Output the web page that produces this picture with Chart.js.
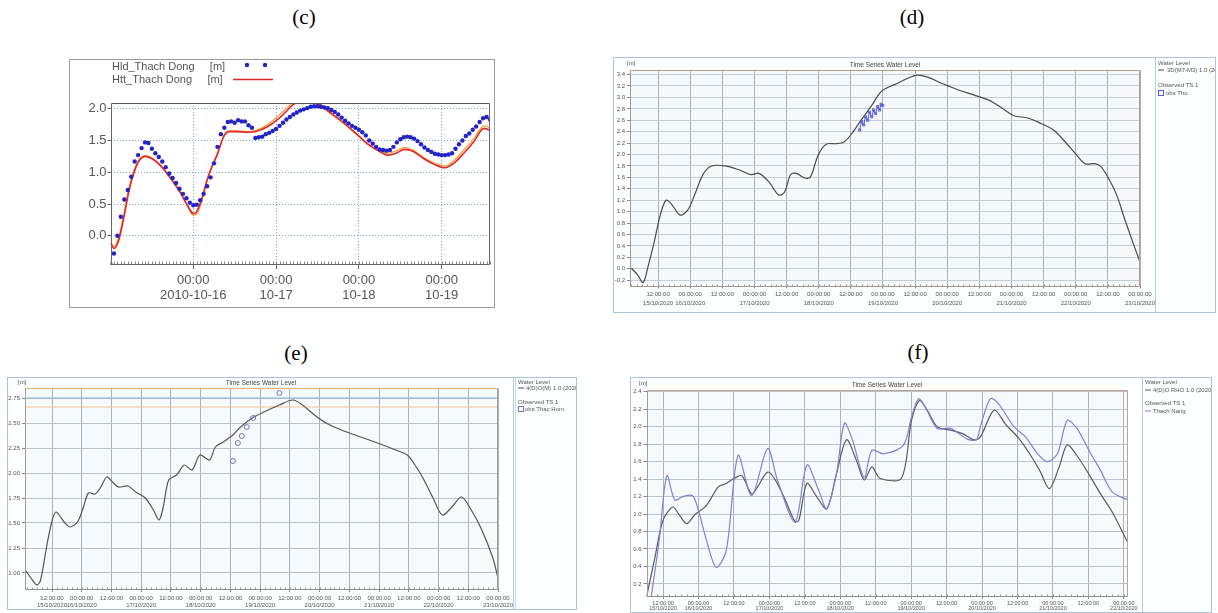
<!DOCTYPE html>
<html><head><meta charset="utf-8">
<script src="https://cdn.jsdelivr.net/npm/chart.js@4.4.1/dist/chart.umd.min.js"></script>
<style>
body{margin:0;background:#fff;width:1218px;height:613px;position:relative;overflow:hidden;font-family:"Liberation Sans",Arial,sans-serif}
.lbl{position:absolute;font-family:"Liberation Serif","Times New Roman",serif;font-size:21px;color:#000;transform:translate(-50%,-50%);white-space:nowrap}
.box{position:absolute;box-sizing:border-box}
.box canvas{position:absolute;left:0;top:0}
</style></head><body>
<div class="lbl" style="left:304px;top:17px">(c)</div>
<div class="lbl" style="left:912px;top:17px">(d)</div>
<div class="lbl" style="left:296px;top:353px">(e)</div>
<div class="lbl" style="left:918px;top:352px">(f)</div>
<div class="box" style="left:69px;top:59px;width:426px;height:249px;border:1px solid #9c9c9c"><canvas id="cc" width="424" height="247"></canvas></div>
<div class="box" style="left:613px;top:57px;width:603px;height:256px;border:1px solid #a9c5de"><canvas id="cd" width="601" height="254"></canvas></div>
<div class="box" style="left:7px;top:377px;width:570px;height:233px;border:1px solid #a9c5de"><canvas id="ce" width="568" height="231"></canvas></div>
<div class="box" style="left:630px;top:377px;width:582px;height:236px;border:1px solid #a9c5de"><canvas id="cf" width="580" height="234"></canvas></div>
<script>
// ---------- (c) Thach Dong: hours since 2010-10-15 00:00 ----------
const C_OBS_HOURS = [0,1,2,3,4,5,6,7,8,9,10,11,12,13,14,15,16,17,18,19,20,21,22,23,24,25,26,27,28,29,30,31,32,33,34,35,36,37,38,39,40,41,42,43,44,45,46,47,48,49,50,51,52,53,54,55,56,57,58,59,60,61,62,63,64,65,66,67,68,69,70,71,72,73,74,75,76,77,78,79,80,81,82,83,84,85,86,87,88,89,90,91,92,93,94,95,96,97,98,99,100,101,102,103,104,105,106,107,108,109,110];
const C_OBS = [-0.45,-0.28,0.00,0.30,0.57,0.72,0.93,1.17,1.27,1.38,
1.47,1.46,1.37,1.30,1.24,1.17,1.08,0.98,0.91,0.83,
0.74,0.66,0.59,0.52,0.48,0.49,0.56,0.66,0.78,0.92,
1.14,1.40,1.60,1.70,1.79,1.80,1.78,1.82,1.80,1.80,
1.74,1.70,1.54,1.55,1.56,1.60,1.62,1.65,1.68,1.73,
1.78,1.83,1.87,1.91,1.94,1.97,1.99,2.01,2.03,2.04,
2.04,2.03,2.02,2.01,1.98,1.95,1.91,1.86,1.81,1.77,
1.73,1.70,1.67,1.63,1.58,1.50,1.45,1.40,1.36,1.35,
1.34,1.35,1.40,1.47,1.52,1.55,1.56,1.55,1.53,1.49,
1.44,1.39,1.35,1.32,1.29,1.28,1.27,1.27,1.28,1.30,
1.37,1.44,1.50,1.57,1.61,1.67,1.72,1.79,1.85,1.87,
1.83];
const C_SIM_HOURS = [0,1,2.4,3.9,5.4,6.9,8.3,10.1,11.8,14.2,17.1,20.1,22.5,24,25,26.5,28,29.4,30.9,32.8,34.3,36.3,39.7,42.1,45.6,49.5,53.4,57.3,60.3,63.2,67.1,71,74.9,77.9,80.3,82.8,85.2,87.7,90.6,94,97,99.5,102.4,105.3,108.2,110];
const C_SIM = [-0.12,-0.2,-0.07,0.3,0.72,1.01,1.18,1.25,1.22,1.12,0.93,0.69,0.46,0.35,0.38,0.59,0.88,1.09,1.27,1.56,1.64,1.64,1.63,1.64,1.72,1.88,2.08,2.12,2.08,1.96,1.8,1.62,1.43,1.33,1.27,1.3,1.36,1.33,1.22,1.12,1.07,1.14,1.3,1.48,1.69,1.66];
const C_SIM2 = [-0.1,-0.17,-0.02,0.35,0.76,1.04,1.2,1.26,1.23,1.13,0.94,0.7,0.45,0.32,0.34,0.55,0.86,1.08,1.28,1.57,1.65,1.65,1.64,1.66,1.75,1.93,2.1,2.12,2.06,1.95,1.79,1.61,1.43,1.34,1.3,1.34,1.39,1.35,1.24,1.14,1.1,1.18,1.35,1.53,1.73,1.7];
const C_XTICKS = [24,48,72,96];
const C_XLABELS = [["00:00","2010-10-16"],["00:00","10-17"],["00:00","10-18"],["00:00","10-19"]];
const C_YTICKS = [0,0.5,1,1.5,2];
const C_YLABELS = ["0.0","0.5","1.0","1.5","2.0"];

// ---------- (d) hours since 15/10/2020 00:00 ----------
const D_HOURS = [2,4.4,6.4,8.4,10.6,12.8,15,17.2,20.2,23.1,26.1,29,32,37.1,42.3,46.7,49.7,53.4,57.1,59.3,61.5,63.7,66.7,68.9,71.8,74.8,78.5,81.4,84.4,88.1,91.8,95.5,100.6,105.1,108.7,112.4,118.3,124.2,130.1,136.1,140.5,144.9,150.1,155.2,159.7,164.1,167.8,171.5,175.2,177.4,180.3,183.3,186.2,189.2,191.9];
const D_LEVEL = [0.01,-0.11,-0.24,0.07,0.48,0.94,1.2,1.12,0.94,1.03,1.35,1.67,1.8,1.8,1.73,1.65,1.67,1.52,1.29,1.35,1.65,1.67,1.59,1.61,1.99,2.18,2.19,2.22,2.37,2.62,2.86,3.11,3.23,3.33,3.39,3.36,3.24,3.13,3.04,2.94,2.81,2.68,2.64,2.54,2.43,2.22,2.02,1.84,1.84,1.79,1.58,1.29,0.88,0.48,0.13];
const D_OBS_HOURS = [87.3,88,88.8,89.5,90.3,91,91.8,92.5,93.2,94,94.7,95.3,95.9];
const D_OBS = [2.43,2.58,2.52,2.66,2.6,2.74,2.66,2.78,2.72,2.84,2.78,2.88,2.86];
const D_XTICKS = [12,24,36,48,60,72,84,96,108,120,132,144,156,168,180,192];
const D_XLABELS = [["12:00:00","15/10/2020"],["00:00:00","16/10/2020"],"12:00:00",["00:00:00","17/10/2020"],"12:00:00",["00:00:00","18/10/2020"],"12:00:00",["00:00:00","19/10/2020"],"12:00:00",["00:00:00","20/10/2020"],"12:00:00",["00:00:00","21/10/2020"],"12:00:00",["00:00:00","22/10/2020"],"12:00:00",["00:00:00","23/10/2020"]];
const D_YTICKS = [-0.2,0,0.2,0.4,0.6,0.8,1,1.2,1.4,1.6,1.8,2,2.2,2.4,2.6,2.8,3,3.2,3.4];
const D_YLABELS = ["-0.2","0.0","0.2","0.4","0.6","0.8","1.0","1.2","1.4","1.6","1.8","2.0","2.2","2.4","2.6","2.8","3.0","3.2","3.4"];

// ---------- (e) ----------
const E_HOURS = [1.2,3.5,5.9,7.4,9.8,12.1,13.7,16.9,19.2,22.3,24.7,26.7,29.4,31.7,34.1,36.4,38.8,42.7,45.8,49.7,52.9,55.2,56.8,59.1,62.3,65.4,68.5,71.7,75.6,77.9,81.1,85,88.1,92.8,97.5,103.8,109.2,113.1,117.9,122.6,128.8,136.6,144.5,150.7,155.4,158.5,161.7,165.6,169.5,173.4,177.3,181.2,185.1,189.8,192];
const E_LEVEL = [1.03,0.95,0.88,0.93,1.26,1.53,1.61,1.51,1.46,1.51,1.66,1.8,1.79,1.86,1.96,1.91,1.86,1.87,1.81,1.75,1.63,1.53,1.65,1.93,1.98,2.08,2.03,2.18,2.13,2.26,2.31,2.38,2.46,2.55,2.61,2.68,2.73,2.68,2.58,2.5,2.43,2.36,2.29,2.23,2.18,2.08,1.95,1.76,1.58,1.66,1.76,1.63,1.45,1.16,0.95];
const E_OBS_HOURS = [85,87,88.6,90.6,93.2,103.8];
const E_OBS = [2.12,2.30,2.37,2.46,2.55,2.80];
const E_ALERT_HOURS = [1.1,192];
const E_ALERT_BLUE = [2.75,2.75];
const E_ALERT_ORANGE = [2.66,2.66];
const E_XTICKS = D_XTICKS;
const E_XLABELS = D_XLABELS;
const E_YTICKS = [1,1.25,1.5,1.75,2,2.25,2.5,2.75];
const E_YLABELS = ["1.00","1.25","1.50","1.75","2.00","2.25","2.50","2.75"];

// ---------- (f) ----------
const F_MODEL_HOURS = [6.4,9.3,12,15.3,17.3,20,22.7,26.7,30.7,33.4,36.7,38.7,42,44,47.4,50,53.4,56.7,58,60.7,64,67.4,70.7,74.1,77.4,80.1,82.7,85.4,92.7,96.1,98.8,101.4,104.8,109.4,113.4,117.4,119.4,124.1,128.1,132.1,136.1,139.5,142.8,146.1,148.8,152.1,156.1,160.1,164.1,169.5];
const F_MODEL = [0.05,0.51,0.93,1.08,1.0,0.89,0.99,1.1,1.31,1.35,1.42,1.44,1.23,1.31,1.48,1.39,1.16,0.91,0.93,1.35,1.2,1.06,1.46,1.85,1.62,1.39,1.54,1.41,1.41,2.07,2.3,2.19,2.0,1.96,1.92,1.85,1.88,2.19,2.02,1.88,1.69,1.5,1.29,1.54,1.79,1.67,1.46,1.23,1.02,0.66];
const F_OBS_HOURS = [8,10.7,13.3,16,18.7,22,24,26.7,30,33.4,37.4,42,47.4,50.7,56.7,60.7,64.7,67.4,70.7,73.4,76.1,80.1,82.7,86.7,93.4,96.1,98.5,100.7,104.8,109.4,114.8,118.1,119.4,122.8,125.4,130.8,134.8,138.8,142.1,145.5,148.8,152.1,156.8,160.1,164.1,169.5];
const F_OBS = [0.05,0.7,1.44,1.16,1.2,1.21,1.04,0.7,0.39,0.58,1.67,1.21,1.75,1.39,0.91,1.56,1.27,1.06,1.46,2.04,1.85,1.42,1.73,1.69,1.79,2.11,2.32,2.23,1.98,1.98,1.86,1.85,2.0,2.32,2.27,2.0,1.88,1.69,1.6,1.69,2.07,1.98,1.69,1.5,1.25,1.16];
const F_XTICKS = [12,24,36,48,60,72,84,96,108,120,132,144,156,168];
const F_XLABELS = [["12:00:00","15/10/2020"],["00:00:00","16/10/2020"],"12:00:00",["00:00:00","17/10/2020"],"12:00:00",["00:00:00","18/10/2020"],"12:00:00",["00:00:00","19/10/2020"],"12:00:00",["00:00:00","20/10/2020"],"12:00:00",["00:00:00","21/10/2020"],"12:00:00",["00:00:00","22/10/2020"]];
const F_YTICKS = [0.2,0.4,0.6,0.8,1,1.2,1.4,1.6,1.8,2,2.2,2.4];
const F_YLABELS = ["0.2","0.4","0.6","0.8","1.0","1.2","1.4","1.6","1.8","2.0","2.2","2.4"];

Chart.defaults.font.family = '"Liberation Sans", Arial, sans-serif';

function pts(xs, ys){ return xs.map((x,i)=>({x:x, y:ys[i]})); }

const decor = {
  id:'decor',
  beforeDraw(chart, args, o){
    const ctx = chart.ctx, a = chart.chartArea;
    ctx.save();
    if(o.panelBg){ ctx.fillStyle=o.panelBg; ctx.fillRect(0,0,chart.width,chart.height); }
    if(o.plotBg){ ctx.fillStyle=o.plotBg; ctx.fillRect(a.left,a.top,a.right-a.left,a.bottom-a.top); }
    ctx.restore();
  },
  afterDraw(chart, args, o){
    const ctx = chart.ctx, a = chart.chartArea;
    ctx.save();
    const L=Math.round(a.left)+0.5, R=Math.round(a.right)-0.5, T=Math.round(a.top)+0.5, B=Math.round(a.bottom)-0.5;
    if(o.minor){
      const xs = chart.scales.x;
      ctx.strokeStyle=o.minor.color; ctx.lineWidth=1; ctx.beginPath();
      for(let v=Math.ceil(xs.min/o.minor.step)*o.minor.step; v<=xs.max; v+=o.minor.step){
        const px=Math.round(xs.getPixelForValue(v))+0.5;
        ctx.moveTo(px,B); ctx.lineTo(px,B-o.minor.len);
      }
      ctx.stroke();
    }
    if(o.frame){
      const f=o.frame; ctx.lineWidth=1;
      const seg=(c,x1,y1,x2,y2)=>{ctx.strokeStyle=c;ctx.beginPath();ctx.moveTo(x1,y1);ctx.lineTo(x2,y2);ctx.stroke();};
      seg(f.left,L,T,L,B); seg(f.right,R,T,R,B); seg(f.bottom,L,B,R,B); seg(f.top,L,T,R,T);
    }
    (o.seps||[]).forEach(s=>{ctx.strokeStyle=s.color;ctx.lineWidth=1;ctx.beginPath();ctx.moveTo(s.x+0.5,0);ctx.lineTo(s.x+0.5,chart.height);ctx.stroke();});
    (o.marks||[]).forEach(m=>{
      if(m.type==='dot'){ctx.fillStyle=m.color;ctx.beginPath();ctx.arc(m.x,m.y,m.r,0,Math.PI*2);ctx.fill();}
      else if(m.type==='line'){ctx.strokeStyle=m.color;ctx.lineWidth=m.w;ctx.beginPath();ctx.moveTo(m.x1,m.y);ctx.lineTo(m.x2,m.y);ctx.stroke();}
      else if(m.type==='rect'){ctx.strokeStyle=m.color;ctx.lineWidth=1;ctx.strokeRect(m.x+0.5,m.y+0.5,m.w,m.h);}
    });
    (o.texts||[]).forEach(t=>{ctx.font=t.font;ctx.fillStyle=t.color;ctx.textAlign=t.align||'left';ctx.textBaseline='middle';ctx.fillText(t.text,t.x,t.y);});
    ctx.restore();
  }
};

function build(id, datasets, c){
  return new Chart(document.getElementById(id), {
    type:'line',
    data:{datasets:datasets},
    options:{
      responsive:false, animation:false, devicePixelRatio:1, events:[],
      layout:{padding:{top:c.padTop, right:c.padRight, left:0, bottom:0}},
      elements:{point:{radius:0}, line:{borderWidth:1.2}},
      plugins:{legend:{display:false}, tooltip:{enabled:false}, decor:c.decor},
      scales:{
        x:{type:'linear', position:'bottom', min:c.xMin, max:c.xMax,
          afterBuildTicks:s=>{s.ticks=c.xTicks.map(v=>({value:v}));},
          afterFit:s=>{s.height=c.xH;},
          ticks:{autoSkip:false,maxRotation:0,minRotation:0,padding:c.xPad,color:c.tickColor,font:c.xFont,callback:(v,i)=>c.xLabels[i]},
          grid:{color:c.vGrid,lineWidth:1,tickLength:c.xTickLen,tickColor:c.tickMark,tickBorderDash:[]},
          border:{display:false,dash:c.dash||[]}},
        y:{type:'linear', position:'left', min:c.yMin, max:c.yMax,
          afterBuildTicks:s=>{s.ticks=c.yTicks.map(v=>({value:v}));},
          afterFit:s=>{s.width=c.yW;},
          ticks:{autoSkip:false,padding:c.yPad,color:c.tickColor,font:c.yFont,callback:(v,i)=>c.yLabels[i]},
          grid:{color:c.hGrid,lineWidth:1,tickLength:c.yTickLen,tickColor:c.tickMark,tickBorderDash:[]},
          border:{display:false,dash:c.dash||[]}}
      }
    },
    plugins:[decor]
  });
}

const small = {size:6, lineHeight:1.5};
const tiny = '6px "Liberation Sans"';

// (c)
build('cc', [
  {label:'Hld_Thach Dong [m]', data:pts(C_OBS_HOURS,C_OBS), showLine:false, pointRadius:2.2, pointBackgroundColor:'#2323c8', pointBorderWidth:0, order:0},
  {label:'Htt_Thach Dong [m]', data:pts(C_SIM_HOURS,C_SIM), borderColor:'#e3262a', borderWidth:1.6, cubicInterpolationMode:'monotone', order:1},
  {label:'Htt2', data:pts(C_SIM_HOURS,C_SIM2), borderColor:'#f0a43a', borderWidth:1.3, cubicInterpolationMode:'monotone', order:2}
], {
  padTop:43, padRight:4, xMin:0, xMax:110, yMin:-0.46, yMax:2.09,
  xTicks:C_XTICKS, xLabels:C_XLABELS, yTicks:C_YTICKS, yLabels:C_YLABELS,
  xH:42, yW:40.5, xPad:4, yPad:1, xTickLen:4, yTickLen:3,
  tickColor:'#555', tickMark:'#666', vGrid:'#7fa6da', hGrid:'#7fa6da', dash:[1,2],
  xFont:{size:13, lineHeight:1.15}, yFont:{size:13},
  decor:{panelBg:'#fff', frame:{top:'#555',left:'#666',right:'#666',bottom:'#666'},
    minor:{step:1,len:3,color:'#888'},
    texts:[{text:'Hld_Thach Dong     [m]',x:42,y:6.5,font:'11px "Liberation Sans"',color:'#555'},
           {text:'Htt_Thach Dong     [m]',x:42,y:19.5,font:'11px "Liberation Sans"',color:'#555'}],
    marks:[{type:'dot',x:177,y:5,r:2.2,color:'#2323c8'},{type:'dot',x:195,y:5,r:2.2,color:'#2323c8'},
           {type:'line',x1:163,x2:203,y:19.5,color:'#e3262a',w:1.6}]}
});

// (d)
build('cd', [
  {label:'Water Level', data:pts(D_HOURS,D_LEVEL), borderColor:'#4a4a4a', borderWidth:1.2, tension:0.35, order:1},
  {label:'obs Thu', data:pts(D_OBS_HOURS,D_OBS), borderColor:'#5a5ad6', borderWidth:1, pointRadius:1.5, pointStyle:'rect', pointBorderColor:'#5a5ad6', pointBackgroundColor:'rgba(0,0,0,0)', order:0}
], {
  padTop:12, padRight:75, xMin:1.5, xMax:192, yMin:-0.31, yMax:3.48,
  xTicks:D_XTICKS, xLabels:D_XLABELS, yTicks:D_YTICKS, yLabels:D_YLABELS,
  xH:25.5, yW:16, xPad:1.5, yPad:2, xTickLen:2, yTickLen:3,
  tickColor:'#555', tickMark:'#888', vGrid:'#a9b2bc', hGrid:'#c6cdd4',
  xFont:small, yFont:{size:6},
  decor:{panelBg:'#fdfeff', plotBg:'#f5f9fc', frame:{top:'#b89c82',left:'#a89888',right:'#b89c82',bottom:'#a89888'},
    minor:{step:2,len:2,color:'#999'},
    seps:[{x:541,color:'#b8ccdd'}],
    texts:[{text:'[m]',x:13,y:5,font:tiny,color:'#555'},
           {text:'Time Series Water Level',x:271,y:7,font:'6.5px "Liberation Sans"',color:'#444',align:'center'},
           {text:'Water Level',x:544,y:5,font:tiny,color:'#555'},
           {text:'3D(M7-M3) 1.0 (2020)',x:553,y:12,font:tiny,color:'#555'},
           {text:'Observed TS 1',x:544,y:27,font:tiny,color:'#555'},
           {text:'obs Thu',x:552,y:35,font:tiny,color:'#555'}],
    marks:[{type:'line',x1:544,x2:550,y:12,color:'#4a4a4a',w:1},{type:'rect',x:544,y:32,w:5,h:5,color:'#5a5ad6'}]}
});

// (e)
build('ce', [
  {label:'Water Level', data:pts(E_HOURS,E_LEVEL), borderColor:'#555', borderWidth:1.2, tension:0.3, order:1},
  {label:'obs Thac Hom', data:pts(E_OBS_HOURS,E_OBS), showLine:false, pointRadius:2.5, pointStyle:'circle', pointBorderColor:'#7474c4', pointBorderWidth:1, pointBackgroundColor:'rgba(0,0,0,0)', order:0},
  {label:'alert blue', data:pts(E_ALERT_HOURS,E_ALERT_BLUE), borderColor:'#86b6e6', borderWidth:1, order:2},
  {label:'alert orange', data:pts(E_ALERT_HOURS,E_ALERT_ORANGE), borderColor:'#f1c493', borderWidth:1, order:3}
], {
  padTop:10, padRight:78, xMin:1.1, xMax:192, yMin:0.83, yMax:2.85,
  xTicks:E_XTICKS, xLabels:E_XLABELS, yTicks:E_YTICKS, yLabels:E_YLABELS,
  xH:19, yW:17, xPad:3, yPad:2, xTickLen:2, yTickLen:3,
  tickColor:'#555', tickMark:'#888', vGrid:'#aab3bd', hGrid:'#b9c3cc',
  xFont:{size:6, lineHeight:1.2}, yFont:{size:6},
  decor:{panelBg:'#fdfeff', plotBg:'#f7fafc', frame:{top:'#e4b27e',left:'#a89c90',right:'#a89c90',bottom:'#8f8f8f'},
    minor:{step:2,len:2,color:'#999'},
    seps:[{x:505,color:'#b8ccdd'},{x:507,color:'#c8d8e6'}],
    texts:[{text:'[m]',x:10,y:4,font:tiny,color:'#555'},
           {text:'Time Series Water Level',x:253,y:5,font:'6.5px "Liberation Sans"',color:'#444',align:'center'},
           {text:'Water Level',x:510,y:4,font:tiny,color:'#555'},
           {text:'4(D)O(M) 1.0 (2020)',x:518,y:10,font:tiny,color:'#555'},
           {text:'Observed TS 1',x:510,y:24,font:tiny,color:'#555'},
           {text:'obs Thac Hom',x:517,y:31,font:tiny,color:'#555'}],
    marks:[{type:'line',x1:510,x2:516,y:10,color:'#555',w:1},{type:'rect',x:510,y:28,w:5,h:5,color:'#7474c4'}]}
});

// (f)
build('cf', [
  {label:'Water Level', data:pts(F_MODEL_HOURS,F_MODEL), borderColor:'#5a5a5a', borderWidth:1.2, tension:0.3, order:1},
  {label:'Thach Nang', data:pts(F_OBS_HOURS,F_OBS), borderColor:'#7f82d8', borderWidth:1.2, tension:0.3, order:0}
], {
  padTop:12, padRight:83, xMin:6.4, xMax:169.4, yMin:0.05, yMax:2.42,
  xTicks:F_XTICKS, xLabels:F_XLABELS, yTicks:F_YTICKS, yLabels:F_YLABELS,
  xH:15, yW:15.5, xPad:1.5, yPad:2, xTickLen:2, yTickLen:3,
  tickColor:'#555', tickMark:'#888', vGrid:'#aab3bd', hGrid:'#bcc5ce',
  xFont:{size:5.5, lineHeight:1}, yFont:{size:6},
  decor:{panelBg:'#fdfeff', plotBg:'#f7fafc', frame:{top:'#c4a486',left:'#a89c90',right:'#b8a590',bottom:'#8f8f8f'},
    minor:{step:2,len:2,color:'#999'},
    seps:[{x:511,color:'#b8ccdd'}],
    texts:[{text:'[m]',x:8,y:5,font:tiny,color:'#555'},
           {text:'Time Series Water Level',x:256,y:7,font:'6.5px "Liberation Sans"',color:'#444',align:'center'},
           {text:'Water Level',x:514,y:4,font:tiny,color:'#555'},
           {text:'4(D)O RHO 1.0 (2020)',x:522,y:12,font:tiny,color:'#555'},
           {text:'Observed TS 1',x:514,y:25,font:tiny,color:'#555'},
           {text:'Thach Nang',x:522,y:33,font:tiny,color:'#555'}],
    marks:[{type:'line',x1:514,x2:520,y:12,color:'#5a5a5a',w:1},{type:'line',x1:514,x2:520,y:33,color:'#7f82d8',w:1}]}
});
</script>
</body></html>
